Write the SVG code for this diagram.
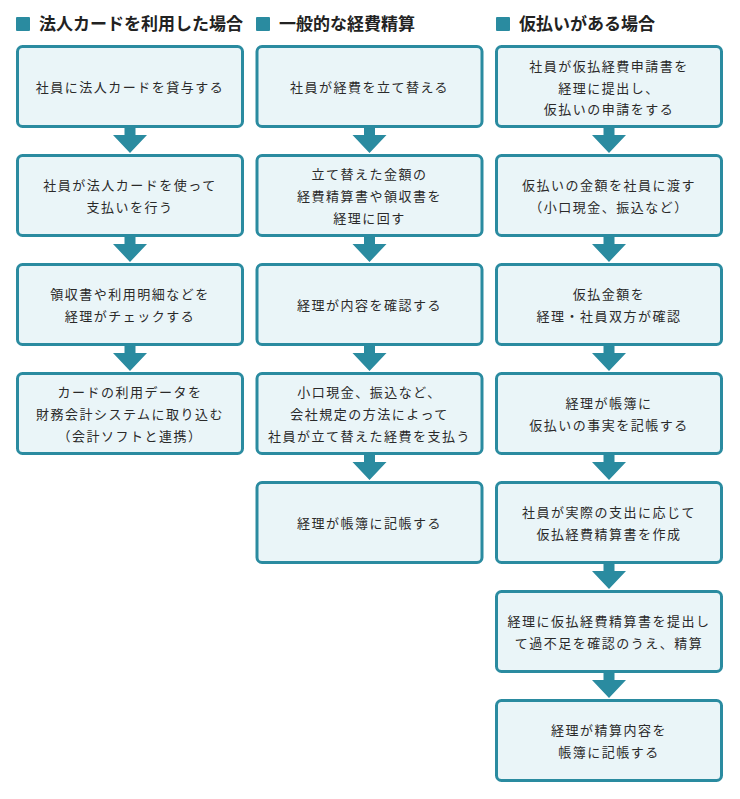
<svg xmlns="http://www.w3.org/2000/svg" width="740" height="799" viewBox="0 0 740 799">
<style>
.box{fill:#eaf5f8;stroke:#2a8ba0;stroke-width:3}
.hd{fill:#2a8ba0}
.arr{fill:#2a8ba0}
.ht{font-family:"Noto Sans CJK JP","Noto Sans",sans-serif;font-size:17px;font-weight:bold;fill:#222}
.t{font-family:"Noto Sans CJK JP","Noto Sans",sans-serif;font-size:13px;fill:#2a2a2a;letter-spacing:1.5px;text-anchor:middle;dominant-baseline:central}
</style>
<defs>
<path id="ar" d="M-5.5,0 H5.5 V7 H17 L0,25 L-17,7 H-5.5 Z"/>
</defs>
<rect width="740" height="799" fill="#fff"/>
<g id="headers">
<rect class="hd" x="16" y="17" width="14" height="14" rx="1"/>
<text class="ht" x="39" y="30">法人カードを利用した場合</text>
<rect class="hd" x="256" y="17" width="14" height="14" rx="1"/>
<text class="ht" x="279" y="30">一般的な経費精算</text>
<rect class="hd" x="496" y="17" width="14" height="14" rx="1"/>
<text class="ht" x="519" y="30">仮払いがある場合</text>
</g>
<g id="connectors">
<use href="#ar" class="arr" x="130" y="128"/>
<use href="#ar" class="arr" x="130" y="237"/>
<use href="#ar" class="arr" x="130" y="346"/>
<use href="#ar" class="arr" x="369.5" y="128"/>
<use href="#ar" class="arr" x="369.5" y="237"/>
<use href="#ar" class="arr" x="369.5" y="346"/>
<use href="#ar" class="arr" x="369.5" y="455"/>
<use href="#ar" class="arr" x="609" y="128"/>
<use href="#ar" class="arr" x="609" y="237"/>
<use href="#ar" class="arr" x="609" y="346"/>
<use href="#ar" class="arr" x="609" y="455"/>
<use href="#ar" class="arr" x="609" y="564"/>
<use href="#ar" class="arr" x="609" y="673"/>
</g>
<g id="c1n1"><rect class="box" x="17.5" y="46.5" width="225" height="80" rx="5"/><text class="t" x="130" y="86.5">社員に法人カードを貸与する</text></g>
<g id="c1n2"><rect class="box" x="17.5" y="155.5" width="225" height="80" rx="5"/><text class="t" x="130" y="184.5">社員が法人カードを使って</text><text class="t" x="130" y="206.5">支払いを行う</text></g>
<g id="c1n3"><rect class="box" x="17.5" y="264.5" width="225" height="80" rx="5"/><text class="t" x="130" y="293.5">領収書や利用明細などを</text><text class="t" x="130" y="315.5">経理がチェックする</text></g>
<g id="c1n4"><rect class="box" x="17.5" y="373.5" width="225" height="80" rx="5"/><text class="t" x="130" y="391.5">カードの利用データを</text><text class="t" x="130" y="413.5">財務会計システムに取り込む</text><text class="t" x="130" y="435.5">（会計ソフトと連携）</text></g>

<g id="c2n1"><rect class="box" x="257" y="46.5" width="225" height="80" rx="5"/><text class="t" x="369.5" y="86.5">社員が経費を立て替える</text></g>
<g id="c2n2"><rect class="box" x="257" y="155.5" width="225" height="80" rx="5"/><text class="t" x="369.5" y="173.5">立て替えた金額の</text><text class="t" x="369.5" y="195.5">経費精算書や領収書を</text><text class="t" x="369.5" y="217.5">経理に回す</text></g>
<g id="c2n3"><rect class="box" x="257" y="264.5" width="225" height="80" rx="5"/><text class="t" x="369.5" y="304.5">経理が内容を確認する</text></g>
<g id="c2n4"><rect class="box" x="257" y="373.5" width="225" height="80" rx="5"/><text class="t" x="369.5" y="391.5">小口現金、振込など、</text><text class="t" x="369.5" y="413.5">会社規定の方法によって</text><text class="t" x="369.5" y="435.5">社員が立て替えた経費を支払う</text></g>
<g id="c2n5"><rect class="box" x="257" y="482.5" width="225" height="80" rx="5"/><text class="t" x="369.5" y="522.5">経理が帳簿に記帳する</text></g>

<g id="c3n1"><rect class="box" x="496.5" y="46.5" width="225" height="80" rx="5"/><text class="t" x="609" y="65">社員が仮払経費申請書を</text><text class="t" x="609" y="87">経理に提出し、</text><text class="t" x="609" y="108.5">仮払いの申請をする</text></g>
<g id="c3n2"><rect class="box" x="496.5" y="155.5" width="225" height="80" rx="5"/><text class="t" x="609" y="184.5">仮払いの金額を社員に渡す</text><text class="t" x="609" y="206.5">（小口現金、振込など）</text></g>
<g id="c3n3"><rect class="box" x="496.5" y="264.5" width="225" height="80" rx="5"/><text class="t" x="609" y="293.5">仮払金額を</text><text class="t" x="609" y="315.5">経理・社員双方が確認</text></g>
<g id="c3n4"><rect class="box" x="496.5" y="373.5" width="225" height="80" rx="5"/><text class="t" x="609" y="402.5">経理が帳簿に</text><text class="t" x="609" y="424.5">仮払いの事実を記帳する</text></g>
<g id="c3n5"><rect class="box" x="496.5" y="482.5" width="225" height="80" rx="5"/><text class="t" x="609" y="511.5">社員が実際の支出に応じて</text><text class="t" x="609" y="533.5">仮払経費精算書を作成</text></g>
<g id="c3n6"><rect class="box" x="496.5" y="591.5" width="225" height="80" rx="5"/><text class="t" x="609" y="620.5">経理に仮払経費精算書を提出し</text><text class="t" x="609" y="642.5">て過不足を確認のうえ、精算</text></g>
<g id="c3n7"><rect class="box" x="496.5" y="700.5" width="225" height="80" rx="5"/><text class="t" x="609" y="729.5">経理が精算内容を</text><text class="t" x="609" y="751.5">帳簿に記帳する</text></g>
</svg>
